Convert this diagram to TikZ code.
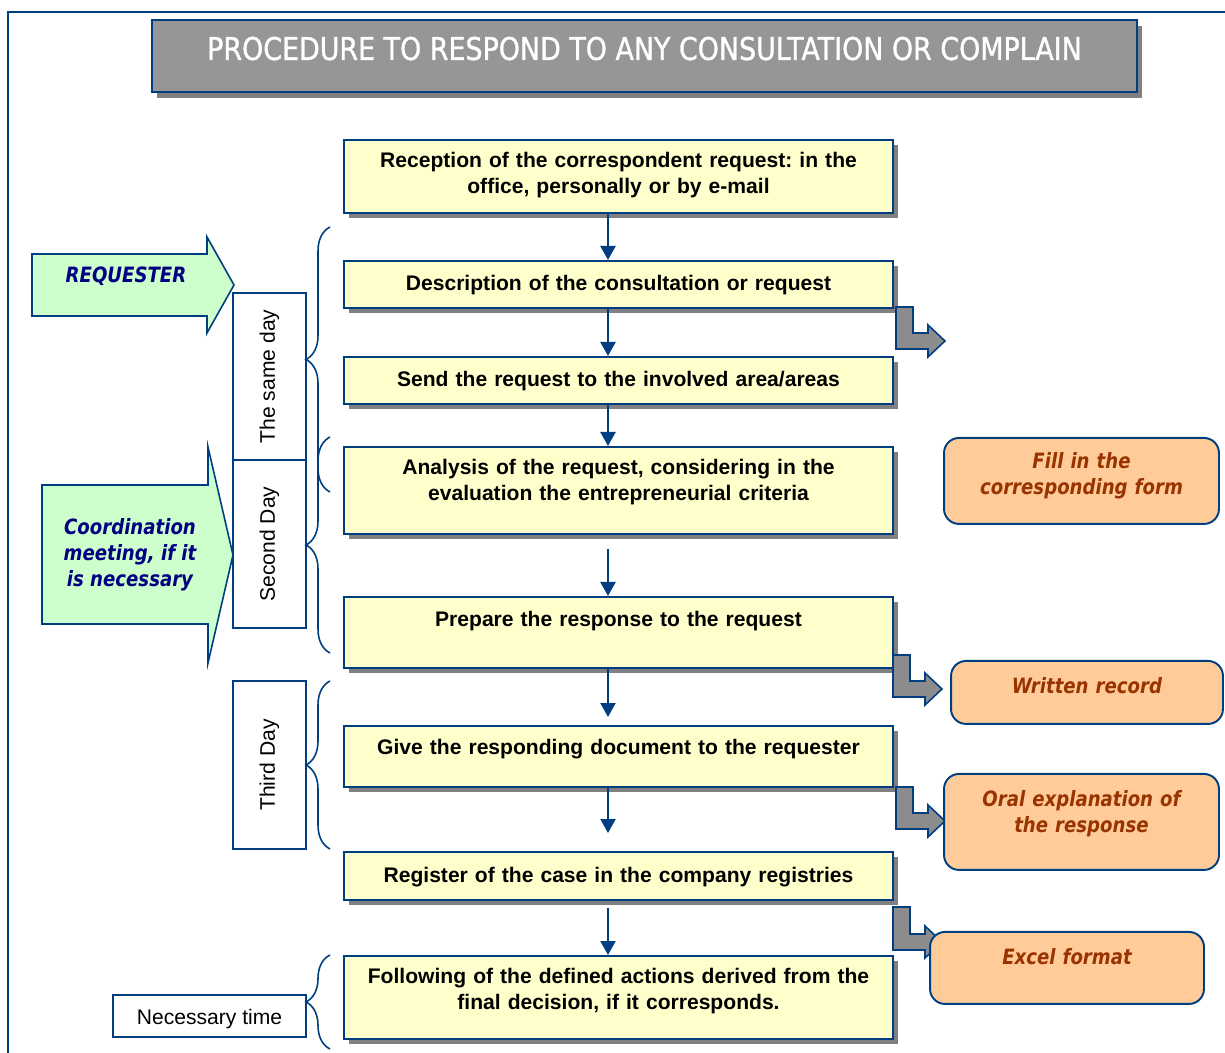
\documentclass[tikz,border=0pt]{standalone}
\usepackage{fontspec}
\setsansfont{Liberation Sans}
\newfontfamily\tahoma[FakeStretch=0.86]{DejaVu Sans}
\newfontfamily\titlefont[FakeStretch=0.86,FakeBold=1]{DejaVu Sans}
\usetikzlibrary{arrows.meta,shadows,decorations.pathreplacing}
\frenchspacing

\definecolor{lineblue}{RGB}{0,62,130}
\definecolor{boxyellow}{RGB}{255,255,204}
\definecolor{boxshadow}{RGB}{128,128,128}
\definecolor{titlegray}{RGB}{150,150,150}
\definecolor{notegreen}{RGB}{204,255,204}
\definecolor{noteorange}{RGB}{255,204,153}
\definecolor{textnavy}{RGB}{0,0,128}
\definecolor{textbrown}{RGB}{153,51,0}
\definecolor{elbowgray}{RGB}{140,140,140}

\begin{document}
\begin{tikzpicture}[x=0.02cm, y=-0.02cm]

      \tikzset{stepbox/.style={draw=lineblue, line width=1.1pt, fill=boxyellow, anchor=north,
                 minimum width=10.98cm, text width=10.6cm, align=center, inner xsep=0pt, inner ysep=0pt,
                 font=\sffamily\bfseries\fontsize{12}{14.8}\selectfont,
                 drop shadow={shadow xshift=0.1cm, shadow yshift=-0.1cm, fill=boxshadow, opacity=1}},
               notebox/.style={draw=lineblue, line width=1.1pt, fill=noteorange, rounded corners=0.3cm,
                 anchor=north, minimum width=5.5cm, text width=5.2cm, align=center, inner sep=0pt,
                 text=textbrown, font=\tahoma\bfseries\itshape\fontsize{12}{14.8}\selectfont},
               daybox/.style={draw=lineblue, line width=1.1pt, fill=white, inner sep=0pt,
                 font=\sffamily\fontsize{12}{14}\selectfont},
               greenarrow/.style={draw=lineblue, line width=0.9pt, fill=notegreen},
               greentext/.style={align=center, text=textnavy,
                 font=\tahoma\bfseries\itshape\fontsize{12}{14.8}\selectfont},
               elbow/.style={draw=lineblue, line width=0.9pt, fill=elbowgray},
               brace/.style={draw=lineblue, line width=0.9pt, decorate, decoration={brace, amplitude=0.48cm}},
               flow/.style={draw=lineblue, line width=1.3pt, -{Triangle[length=0.28cm, width=0.3cm]}}}

      \useasboundingbox (0,0) rectangle (1225,1053);
      \clip (0,0) rectangle (1225,1053);
      \draw[lineblue, line width=0.9pt] (8,12) rectangle (1300,1100);

%% Title
      \node[draw=lineblue, line width=1.1pt, fill=titlegray, text=white, anchor=north,
            minimum width=19.7cm, inner sep=0pt, text height=0.8cm, text depth=0.64cm,
            font=\titlefont\fontsize{17.8}{20}\selectfont,
            drop shadow={shadow xshift=0.1cm, shadow yshift=-0.12cm, fill=boxshadow, opacity=1}]
            (title) at (644.5,19) {PROCEDURE TO RESPOND TO ANY CONSULTATION OR COMPLAIN};

%% Steps
      \node[stepbox, text height=0.56cm, text depth=0.90cm] (recv) at (618.5,139)
            {Reception of the correspondent request: in the\\office, personally or by e-mail};
      \node[stepbox, text height=0.60cm, text depth=0.34cm] (descr) at (618.5,260)
            {Description of the consultation or request};
      \node[stepbox, text height=0.60cm, text depth=0.34cm] (send) at (618.5,356)
            {Send the request to the involved area/areas};
      \node[stepbox, text height=0.56cm, text depth=1.18cm] (analysis) at (618.5,446)
            {Analysis of the request, considering in the\\evaluation the entrepreneurial criteria};
      \node[stepbox, text height=0.60cm, text depth=0.82cm] (prepare) at (618.5,596)
            {Prepare the response to the request};
      \node[stepbox, text height=0.58cm, text depth=0.64cm] (give) at (618.5,725)
            {Give the responding document to the requester};
      \node[stepbox, text height=0.62cm, text depth=0.34cm] (register) at (618.5,851)
            {Register of the case in the company registries};
      \node[stepbox, text height=0.56cm, text depth=1.10cm] (follow) at (618.5,955)
            {Following of the defined actions derived from the\\final decision, if it corresponds.};

%Flow arrows
      \coordinate (col) at (608,0);
      \draw[flow] (recv.south -| col) -- (descr.north -| col);
      \draw[flow] (descr.south -| col) -- (send.north -| col);
      \draw[flow] (send.south -| col) -- (analysis.north -| col);
      \draw[flow, shorten <=0.28cm] (analysis.south -| col) -- (prepare.north -| col);
      \draw[flow, shorten >=0.16cm] (prepare.south -| col) -- (give.north -| col);
      \draw[flow, shorten >=0.36cm] (give.south -| col) -- (register.north -| col);
      \draw[flow, shorten <=0.14cm] (register.south -| col) -- (follow.north -| col);

%Side arrows
      \draw[elbow] (896,307) -- ++(17,0) -- ++(0,26) -- ++(15,0) -- ++(0,-8) -- ++(17,16) -- ++(-17,16) -- ++(0,-8) -- ++(-32,0) -- cycle;
      \draw[elbow] (893,655) -- ++(17,0) -- ++(0,26) -- ++(15,0) -- ++(0,-8) -- ++(17,16) -- ++(-17,16) -- ++(0,-8) -- ++(-32,0) -- cycle;
      \draw[elbow] (896,787) -- ++(17,0) -- ++(0,26) -- ++(15,0) -- ++(0,-8) -- ++(17,16) -- ++(-17,16) -- ++(0,-8) -- ++(-32,0) -- cycle;
      \draw[elbow] (893,907) -- ++(17,0) -- ++(0,27) -- ++(15,0) -- ++(0,-8) -- ++(17,16) -- ++(-17,16) -- ++(0,-8) -- ++(-32,0) -- cycle;

%% Notes
      \node[notebox, text height=0.62cm, text depth=1.10cm] (form) at (1081.5,437)
            {Fill in the\\corresponding form};
      \node[notebox, text height=0.66cm, text depth=0.60cm, minimum width=5.44cm] (record) at (1087,660)
            {Written record};
      \node[notebox, text height=0.66cm, text depth=1.26cm] (oral) at (1081.5,773)
            {Oral explanation of\\the response};
      \node[notebox, text height=0.66cm, text depth=0.78cm, minimum width=5.48cm] (excel) at (1067,931)
            {Excel format};

%% Requester side
      \draw[greenarrow] (32,254) -- (207,254) -- (207,237) -- (234,285) -- (207,333) -- (207,316) -- (32,316) -- cycle;
      \node[greentext] (requester) at (126,276) {REQUESTER};
      \draw[greenarrow] (42,485) -- (208,485) -- (208,447) -- (233,555) -- (208,663) -- (208,624) -- (42,624) -- cycle;
      \node[greentext] (meeting) at (130,555) {Coordination\\meeting, if it\\is necessary};

%% Days
      \node[daybox, rotate=90, minimum width=3.34cm, minimum height=1.46cm] (sameday) at (269.5,376.5) {The same day};
      \node[daybox, rotate=90, minimum width=3.36cm, minimum height=1.46cm] (secondday) at (269.5,544) {Second Day};
      \node[daybox, rotate=90, minimum width=3.36cm, minimum height=1.46cm] (thirdday) at (269.5,765) {Third Day};
      \node[daybox, minimum width=3.86cm, minimum height=0.84cm, text height=0.6cm, text depth=0.24cm] (needtime) at (209.5,1016) {Necessary time};

%Braces
      \draw[brace] (330,492) -- (330,227);
      \draw[brace] (330,653) -- (330,437);
      \draw[brace] (330,849) -- (330,681);
      \draw[brace] (330,1049) -- (330,955);

	\end{tikzpicture}
\end{document}
